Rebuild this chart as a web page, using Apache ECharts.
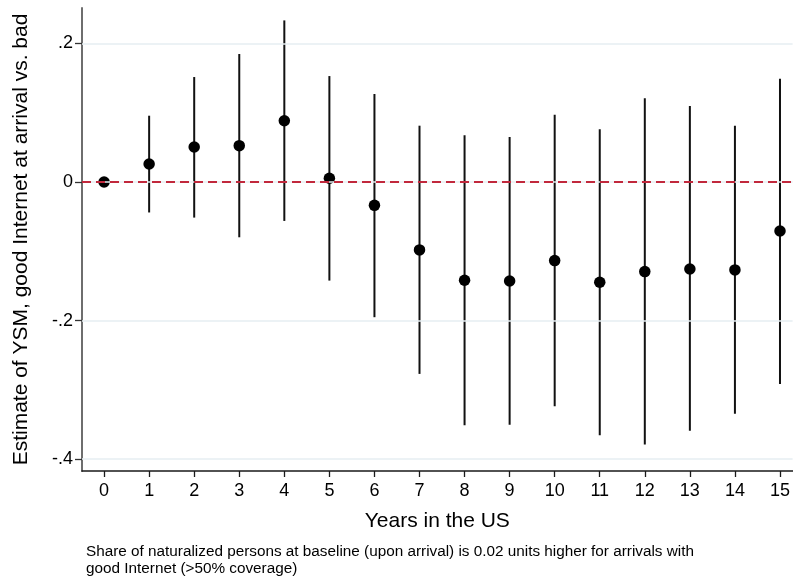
<!DOCTYPE html>
<html>
<head>
<meta charset="utf-8">
<title>Estimate of YSM by years in the US</title>
<script src="https://cdn.jsdelivr.net/npm/echarts@6/dist/echarts.min.js"></script>
<style>
  html, body { margin: 0; padding: 0; background: #ffffff; }
  #chart { width: 793px; height: 577px; }
</style>
</head>
<body>
<div id="chart"></div>
<script>
// Years since arrival (x categories)
const years = [0, 1, 2, 3, 4, 5, 6, 7, 8, 9, 10, 11, 12, 13, 14, 15];
// Point estimates
const estimates = [0, 0.026, 0.0505, 0.0524, 0.0884, 0.0053, -0.0337, -0.098,
  -0.1418, -0.1428, -0.1134, -0.1447, -0.1293, -0.1255, -0.1269, -0.0707];
// Confidence interval bounds (year 0 is the reference, no interval)
const ciLower = [null, -0.044, -0.0514, -0.0798, -0.0562, -0.1423, -0.1951, -0.2769,
  -0.3509, -0.3504, -0.3235, -0.3653, -0.3788, -0.359, -0.3345, -0.2913];
const ciUpper = [null, 0.0956, 0.1514, 0.1846, 0.2331, 0.1528, 0.1269, 0.0812,
  0.0673, 0.0649, 0.097, 0.076, 0.1207, 0.1096, 0.0812, 0.149];
// Y axis tick values
const yTicks = [-0.4, -0.2, 0, 0.2];

const noteText = 'Share of naturalized persons at baseline (upon arrival) is 0.02 units higher for arrivals with\ngood Internet (>50% coverage)';

const FONT = 'Arial, "Liberation Sans", Helvetica, sans-serif';

const chart = echarts.init(document.getElementById('chart'), null, { renderer: 'canvas' });

const pointData = years.map((y, i) => [y, estimates[i]]);
const ciData = years.map((y, i) => [y, ciLower[i], ciUpper[i]])
  .filter(d => d[1] !== null && d[2] !== null);

function fmtTick(v) {
  if (Math.abs(v) < 1e-9) return '0';
  let s = String(Math.round(v * 10) / 10);
  return s.replace(/^(-?)0\./, '$1.');
}

const option = {
  backgroundColor: '#ffffff',
  animation: false,
  grid: { left: 82, right: 0, top: 8, bottom: 106, containLabel: false },
  xAxis: {
    type: 'value',
    min: -0.49,
    max: 15.28,
    name: 'Years in the US',
    nameLocation: 'middle',
    nameGap: 40,
    nameTextStyle: { fontFamily: FONT, fontSize: 21, color: '#000' },
    axisLine: { show: true, onZero: false, lineStyle: { color: '#1a1a1a', width: 1.5 } },
    axisTick: { show: true, length: 6, customValues: years, lineStyle: { color: '#1a1a1a', width: 1.3 } },
    axisLabel: { customValues: years, margin: 11, fontFamily: FONT, fontSize: 18, color: '#000' },
    splitLine: { show: false }
  },
  yAxis: {
    type: 'value',
    min: -0.417,
    max: 0.251,
    name: 'Estimate of YSM, good Internet at arrival vs. bad',
    nameLocation: 'middle',
    nameRotate: 90,
    nameGap: 50,
    nameTextStyle: { fontFamily: FONT, fontSize: 21, color: '#000' },
    axisLine: { show: true, onZero: false, lineStyle: { color: '#6e6e6e', width: 2 } },
    axisTick: { show: true, length: 7, customValues: yTicks, lineStyle: { color: '#333', width: 1.3 } },
    axisLabel: { customValues: yTicks, margin: 9, fontFamily: FONT, fontSize: 18, color: '#000', formatter: fmtTick },
    splitLine: { show: false }
  },
  graphic: [{
    type: 'text',
    left: 86,
    top: 544,
    style: { text: noteText, fontFamily: FONT, fontSize: 15.3, lineHeight: 16.5, fill: '#000' }
  }],
  series: [
    {
      // horizontal gridlines
      type: 'line',
      data: [],
      z: 1,
      silent: true,
      markLine: {
        silent: true,
        symbol: 'none',
        label: { show: false },
        lineStyle: { color: '#e6eef2', width: 1.5, type: 'solid' },
        data: yTicks.map(v => ({ yAxis: v }))
      }
    },
    {
      // zero reference line
      type: 'line',
      data: [],
      z: 2,
      silent: true,
      markLine: {
        silent: true,
        symbol: 'none',
        label: { show: false },
        lineStyle: { color: '#c1283c', width: 2, type: [9, 5] },
        data: [{ yAxis: 0 }]
      }
    },
    {
      // confidence intervals
      type: 'custom',
      z: 3,
      data: ciData,
      renderItem: function (params, api) {
        const x = api.value(0);
        const lo = api.coord([x, api.value(1)]);
        const hi = api.coord([x, api.value(2)]);
        return {
          type: 'line',
          shape: { x1: lo[0], y1: lo[1], x2: hi[0], y2: hi[1] },
          style: { stroke: '#111', lineWidth: 2 }
        };
      }
    },
    {
      // point estimates
      type: 'scatter',
      z: 4,
      data: pointData,
      symbol: 'circle',
      symbolSize: 11.5,
      itemStyle: { color: '#000', opacity: 1 }
    }
  ]
};

chart.setOption(option);
</script>
</body>
</html>
